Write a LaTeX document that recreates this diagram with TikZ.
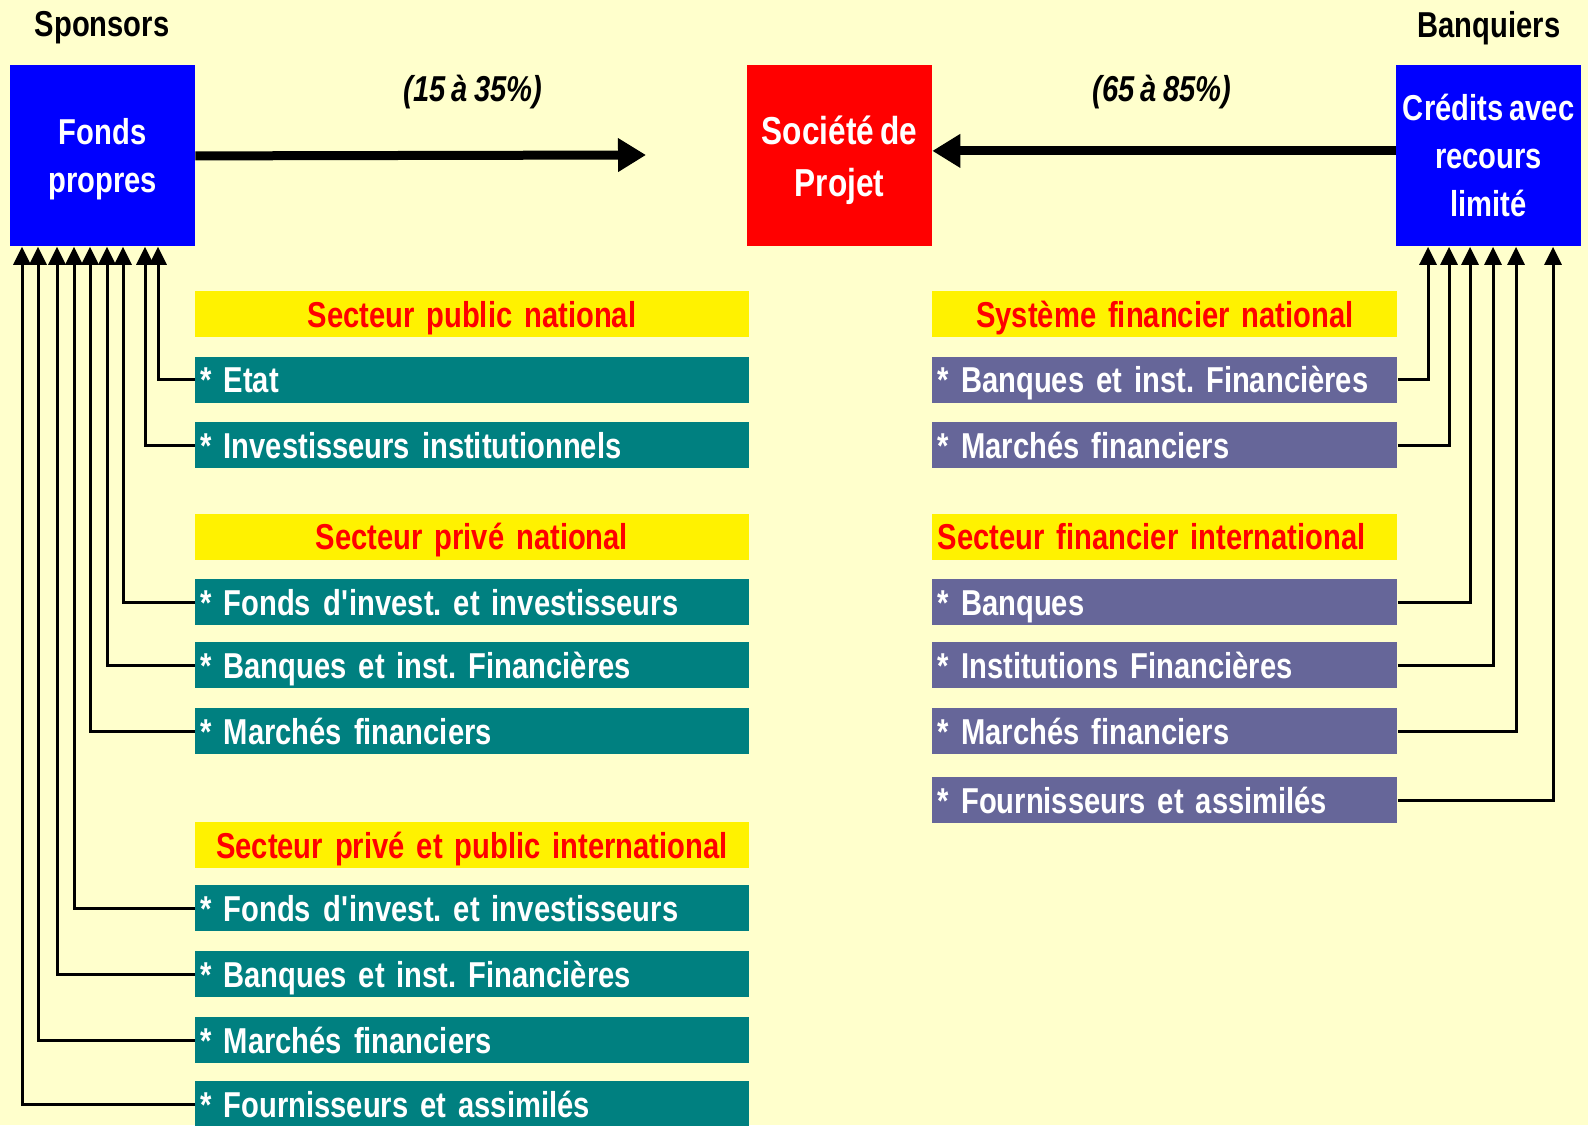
\documentclass[tikz,border=0pt]{standalone}
\usepackage{fontspec}
\setmainfont[FakeStretch=0.81,WordSpace=0.75]{Liberation Sans}
\usetikzlibrary{arrows.meta,positioning}
\frenchspacing

\definecolor{fond}{HTML}{FFFFCC}
\definecolor{sarcelle}{HTML}{008080}
\definecolor{mauve}{HTML}{666699}

\tikzset{
	bloc/.style={minimum width=92.25pt,minimum height=90.5pt,inner sep=0pt,anchor=north west,text=white,align=center,font=\bfseries\fontsize{18}{24}\selectfont},
	rang/.style={minimum height=23pt,inner ysep=0pt,inner xsep=2.75pt,anchor=north west,text height=15pt,text depth=2pt,font=\bfseries\fontsize{18}{22}\selectfont},
	entete/.style={rang,fill=yellow,text=red,align=center},
	item/.style={rang,fill=#1,text=white,align=left},
	gauche/.style={minimum width=277pt,text width=271.5pt},
	droite/.style={minimum width=232.5pt,text width=227pt},
	grosse/.style={line width=4.5pt,-{Triangle[length=14pt,width=16pt]}},
	apport/.style={line width=1.5pt,-{Triangle[length=9pt,width=8.5pt]}}
}

\begin{document}
\begin{tikzpicture}[x=0.5pt,y=-0.5pt]
	\path[use as bounding box,fill=fond] (0,0) rectangle (1588,1125);

	\node[font=\bfseries\fontsize{18}{22}\selectfont] (sponsors) at (102,28) {Sponsors};
	\node[font=\bfseries\fontsize{18}{22}\selectfont] (banquiers) at (1489,28) {Banquiers};

	\node[bloc,fill=blue,text depth=0pt] (fonds) at (10,65) {Fonds\\propres};
	\node[bloc,fill=red,text depth=0pt,font=\bfseries\fontsize{19.5}{26}\selectfont] (societe) at (747,65) {Société de\\Projet};
	\node[bloc,fill=blue] (credits) at (1396,65) {Crédits avec\\recours\\limité};

	\node[font=\bfseries\itshape\fontsize{18}{22}\selectfont] (pct1) at (473,92) {(15 à 35\%)};
	\node[font=\bfseries\itshape\fontsize{18}{22}\selectfont] (pct2) at (1162,92) {(65 à 85\%)};

	\coordinate (bout) at (646,155);
	\draw[grosse] (fonds.east) -- (bout);
	\draw[grosse] ([yshift=2.5pt]credits.west) -- ([yshift=2.5pt]societe.east);

	% sponsors
	\node[entete,gauche] (pubnat) at (194.5,291) {Secteur public national};
	\node[entete,gauche] (privnat) at (194.5,513.5) {Secteur privé national};
	\node[entete,gauche] (inter) at (194.5,822) {Secteur privé et public international};
	\foreach \nom/\y/\txt in {etat/356.5/Etat, inv/422/Investisseurs institutionnels,
		fpn/579/Fonds d\textquotesingle invest. et investisseurs, bpn/642/Banques et inst. Financières, mpn/708/Marchés financiers,
		fin/885/Fonds d\textquotesingle invest. et investisseurs, bin/951/Banques et inst. Financières, min/1017/Marchés financiers,
		fourin/1081/Fournisseurs et assimilés}
		\node[item=sarcelle,gauche] (\nom) at (194.5,\y) {* \txt};

	\foreach \nom/\dx in {etat/148,inv/135,fpn/113,bpn/97,mpn/80,fin/64,bin/47,min/28,fourin/12}
		\draw[apport] (\nom.west) -| ([xshift=\dx*0.5pt]fonds.south west);

	% banquiers
	\node[entete,droite] (sysnat) at (932,291) {Système financier national};
	\node[entete,droite,align=left] (fininter) at (932,513.5) {Secteur financier international};
	\foreach \nom/\y/\txt in {bsn/356.5/Banques et inst. Financières, msn/422/Marchés financiers,
		bfi/579/Banques, ifi/642/Institutions Financières, mfi/708/Marchés financiers, ffi/777/Fournisseurs et assimilés}
		\node[item=mauve,droite] (\nom) at (932,\y) {* \txt};

	\foreach \nom/\dx in {bsn/32,msn/53,bfi/74,ifi/97,mfi/120,ffi/157}
		\draw[apport] (\nom.east) -| ([xshift=\dx*0.5pt]credits.south west);
\end{tikzpicture}
\end{document}
